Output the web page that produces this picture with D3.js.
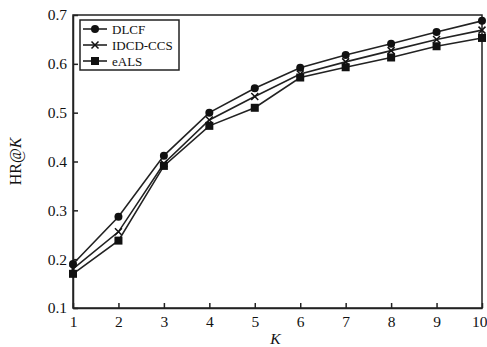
<!DOCTYPE html>
<html>
<head>
<meta charset="utf-8">
<script src="https://cdn.jsdelivr.net/npm/d3@7"></script>
<style>
  body { margin: 0; background: #fff; }
  svg { display: block; }
  text { font-family: "Liberation Serif", "Times New Roman", serif; fill: #111; }
</style>
</head>
<body>
<div class="container"></div>
<script>
// data
var kValues = [1, 2, 3, 4, 5, 6, 7, 8, 9, 10];
var dlcf = [0.190, 0.287, 0.412, 0.500, 0.550, 0.592, 0.618, 0.641, 0.665, 0.688];
var idcdCcs = [0.180, 0.256, 0.396, 0.485, 0.533, 0.579, 0.604, 0.627, 0.650, 0.669];
var eals = [0.170, 0.238, 0.391, 0.473, 0.510, 0.572, 0.593, 0.613, 0.636, 0.653];
var seriesNames = ["DLCF", "IDCD-CCS", "eALS"];
var yTicks = [0.1, 0.2, 0.3, 0.4, 0.5, 0.6, 0.7];

var width = 487, height = 347;
var margin = {top: 15, right: 5, bottom: 39, left: 73};

var series = [
  {name: seriesNames[0], values: dlcf, marker: "circle"},
  {name: seriesNames[1], values: idcdCcs, marker: "cross"},
  {name: seriesNames[2], values: eals, marker: "square"}
];

var x = d3.scaleLinear().domain([1, 10]).range([margin.left, width - margin.right]);
var y = d3.scaleLinear().domain([0.1, 0.7]).range([height - margin.bottom, margin.top]);

var svg = d3.select(".container").append("svg")
  .attr("width", width)
  .attr("height", height);

// frame
svg.append("rect")
  .attr("x", x(1)).attr("y", y(0.7))
  .attr("width", x(10) - x(1)).attr("height", y(0.1) - y(0.7))
  .attr("fill", "none").attr("stroke", "#222").attr("stroke-width", 1.5);

var xAxis = d3.axisBottom(x).tickValues(kValues).tickFormat(d3.format("d"))
  .tickSizeInner(-5).tickSizeOuter(0).tickPadding(8);
var yAxis = d3.axisLeft(y).tickValues(yTicks).tickFormat(d3.format(".1f"))
  .tickSizeInner(-5).tickSizeOuter(0).tickPadding(6);

var gx = svg.append("g")
  .attr("transform", "translate(0," + y(0.1) + ")")
  .call(xAxis);
var gy = svg.append("g")
  .attr("transform", "translate(" + x(1) + ",0)")
  .call(yAxis);

[gx, gy].forEach(function(g) {
  g.select(".domain").attr("stroke", "#222").attr("stroke-width", 1.5);
  g.selectAll(".tick line").attr("stroke", "#222").attr("stroke-width", 1.5);
  g.selectAll(".tick text").attr("font-size", 15.5)
    .attr("font-family", "'Liberation Serif', serif").attr("fill", "#111");
});
// last label sits flush with the right edge, like the original
gx.selectAll(".tick text").filter(function(d) { return d === 10; })
  .attr("text-anchor", "end").attr("dx", 5);

// axis titles
svg.append("text")
  .attr("x", (x(1) + x(10)) / 2 - 2).attr("y", height - 3)
  .attr("text-anchor", "middle").attr("font-size", 15.5).attr("font-style", "italic")
  .text("K");

var yl = svg.append("text")
  .attr("transform", "translate(21," + ((y(0.1) + y(0.7)) / 2) + ") rotate(-90)")
  .attr("text-anchor", "middle").attr("font-size", 16);
yl.append("tspan").text("HR@");
yl.append("tspan").attr("font-style", "italic").text("K");

function drawMarker(g, type, cx, cy) {
  if (type === "circle") {
    g.append("circle").attr("cx", cx).attr("cy", cy).attr("r", 4).attr("fill", "#111");
  } else if (type === "square") {
    g.append("rect").attr("x", cx - 4).attr("y", cy - 4)
      .attr("width", 8).attr("height", 8).attr("fill", "#111");
  } else {
    g.append("path")
      .attr("d", "M" + (cx - 3.5) + "," + (cy - 3.5) + "L" + (cx + 3.5) + "," + (cy + 3.5) +
                 "M" + (cx - 3.5) + "," + (cy + 3.5) + "L" + (cx + 3.5) + "," + (cy - 3.5))
      .attr("stroke", "#111").attr("stroke-width", 1.5);
  }
}

var line = d3.line()
  .x(function(d, i) { return x(kValues[i]); })
  .y(function(d) { return y(d); });

series.forEach(function(s) {
  var g = svg.append("g");
  g.append("path")
    .attr("d", line(s.values))
    .attr("fill", "none").attr("stroke", "#222").attr("stroke-width", 1.6);
  s.values.forEach(function(v, i) {
    drawMarker(g, s.marker, x(kValues[i]), y(v));
  });
});

// legend
var lg = svg.append("g").attr("transform", "translate(80,20)");
lg.append("rect")
  .attr("width", 99).attr("height", 50)
  .attr("fill", "#fff").attr("stroke", "#222").attr("stroke-width", 1.5);
series.forEach(function(s, i) {
  var ly = 9 + i * 16;
  lg.append("line")
    .attr("x1", 3).attr("x2", 27).attr("y1", ly).attr("y2", ly)
    .attr("stroke", "#222").attr("stroke-width", 1.6);
  drawMarker(lg, s.marker, 15, ly);
  lg.append("text")
    .attr("x", 32).attr("y", ly + 4.5)
    .attr("font-size", 13)
    .text(s.name);
});
</script>
</body>
</html>
